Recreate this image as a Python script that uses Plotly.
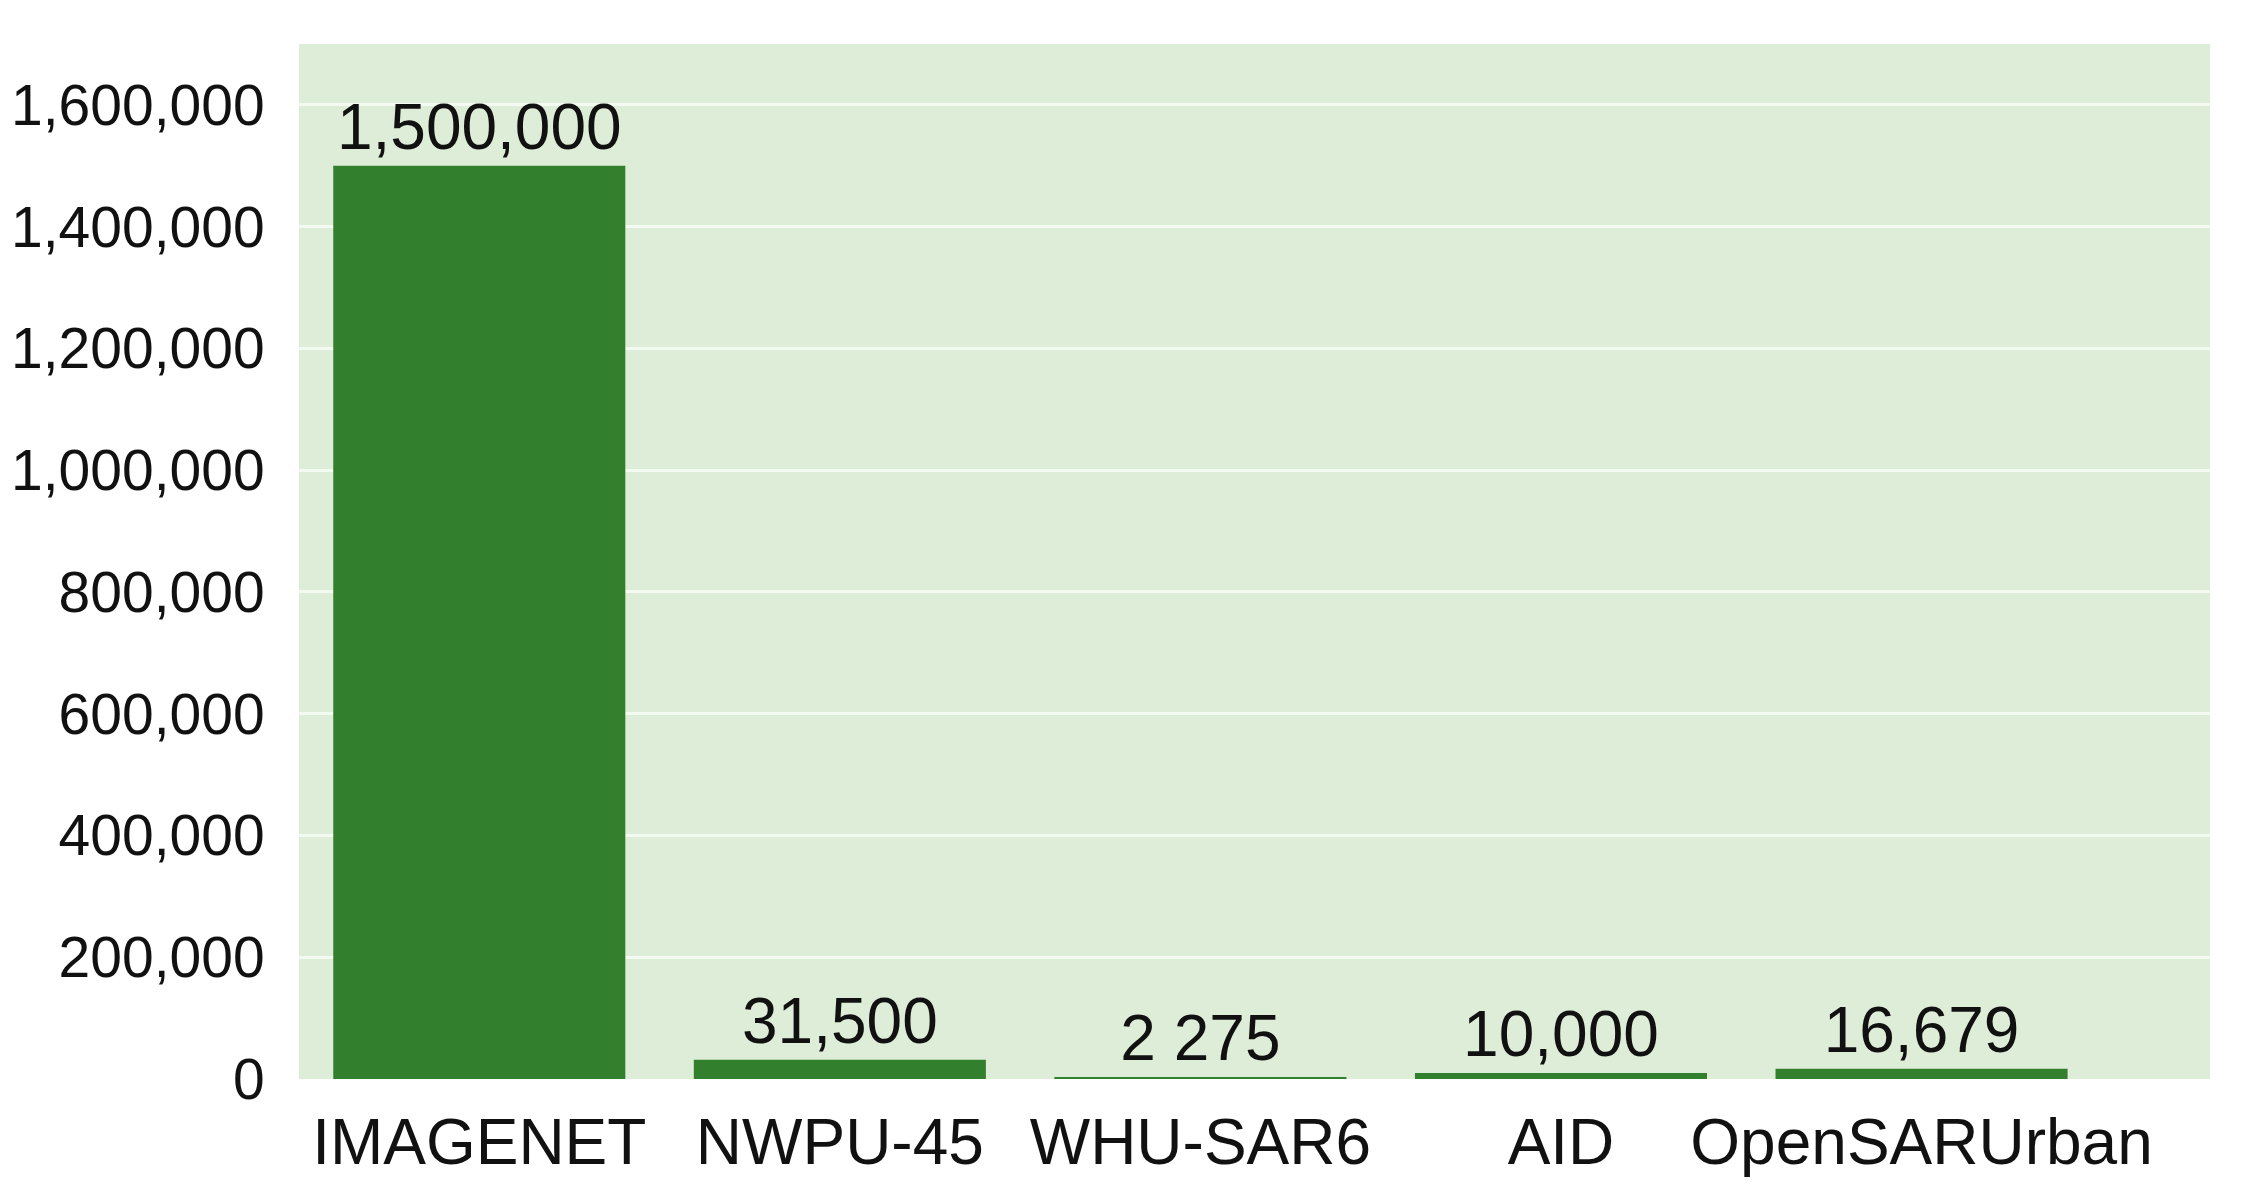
import plotly.graph_objects as go

# dataset sizes
datasets = ["IMAGENET", "NWPU-45", "WHU-SAR6", "AID", "OpenSARUrban"]
num_images = [1500000, 31500, 2275, 10000, 16679]
bar_labels = ["1,500,000", "31,500", "2 275", "10,000", "16,679"]

y_ticks = [0, 200000, 400000, 600000, 800000, 1000000, 1200000, 1400000, 1600000]
y_tick_text = ["0", "200,000", "400,000", "600,000", "800,000",
               "1,000,000", "1,200,000", "1,400,000", "1,600,000"]

BAR_GREEN = "#327F2E"
PLOT_BG = "#DEEDD7"

fig = go.Figure(
    go.Bar(
        x=list(range(len(datasets))),
        y=num_images,
        width=0.81,
        marker=dict(color=BAR_GREEN, line=dict(width=0)),
        text=bar_labels,
        textposition="outside",
        constraintext="none",
        cliponaxis=False,
        textfont=dict(family="Liberation Sans, Arial, sans-serif", size=64, color="#111111"),
    )
)

fig.update_layout(
    width=2254,
    height=1203,
    margin=dict(l=291, r=52, t=36, b=132),
    plot_bgcolor=PLOT_BG,
    paper_bgcolor="white",
    font=dict(family="Liberation Sans, Arial, sans-serif", size=64, color="#111111"),
    showlegend=False,
    bargap=0.2,
)

fig.update_xaxes(
    range=[-0.5, 4.8],
    tickmode="array",
    tickvals=list(range(len(datasets))),
    ticktext=datasets,
    showgrid=False,
    zeroline=False,
    showline=False,
    ticks="outside",
    ticklen=7,
    tickcolor="rgba(0,0,0,0)",
    tickfont=dict(size=64),
    automargin=False,
)

fig.update_yaxes(
    range=[0, 1700000],
    tickmode="array",
    tickvals=y_ticks,
    ticktext=y_tick_text,
    showgrid=True,
    gridcolor="#F3FAEF",
    gridwidth=3,
    zeroline=False,
    showline=False,
    ticks="outside",
    ticklen=22,
    tickcolor="rgba(0,0,0,0)",
    tickfont=dict(size=57),
    automargin=False,
)

fig.write_html("out.html")
